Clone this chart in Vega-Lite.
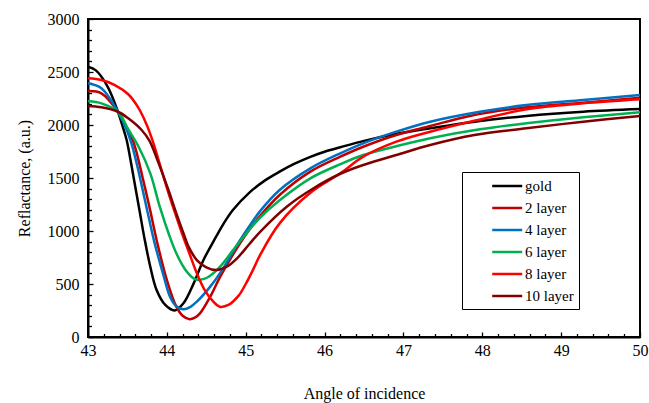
{
  "$schema": "https://vega.github.io/schema/vega-lite/v6.json",
  "autosize": {"type": "none"},
  "padding": {"left": 88, "top": 19, "right": 9, "bottom": 66},
  "width": 552,
  "height": 318,
  "config": {
    "view": {"stroke": "#000000", "strokeWidth": 2},
    "font": "Times New Roman, Liberation Serif, serif",
    "axis": {"grid": false, "domainColor": "#000000", "domainWidth": 2, "tickColor": "#000000", "labelColor": "#000000", "titleColor": "#000000", "labelFont": "Times New Roman, Liberation Serif, serif", "titleFont": "Times New Roman, Liberation Serif, serif", "labelFontSize": 16, "titleFontSize": 16, "titleFontWeight": "normal"},
    "legend": {"labelFont": "Times New Roman, Liberation Serif, serif", "labelFontSize": 15, "labelColor": "#000000"}
  },
  "data": {"values": [
    {"s":"gold","x":43.0,"y":2550},{"s":"gold","x":43.1,"y":2515},{"s":"gold","x":43.25,"y":2360},{"s":"gold","x":43.38,"y":2125},{"s":"gold","x":43.44,"y":1985},{"s":"gold","x":43.49,"y":1858},{"s":"gold","x":43.55,"y":1625},{"s":"gold","x":43.6,"y":1415},{"s":"gold","x":43.66,"y":1165},{"s":"gold","x":43.72,"y":915},{"s":"gold","x":43.79,"y":663},{"s":"gold","x":43.87,"y":443},{"s":"gold","x":43.98,"y":302},{"s":"gold","x":44.1,"y":250},{"s":"gold","x":44.21,"y":318},{"s":"gold","x":44.34,"y":506},{"s":"gold","x":44.46,"y":720},{"s":"gold","x":44.59,"y":900},{"s":"gold","x":44.72,"y":1070},{"s":"gold","x":44.84,"y":1200},{"s":"gold","x":45.05,"y":1365},{"s":"gold","x":45.25,"y":1480},{"s":"gold","x":45.43,"y":1560},{"s":"gold","x":45.62,"y":1635},{"s":"gold","x":45.82,"y":1700},{"s":"gold","x":46.0,"y":1748},{"s":"gold","x":46.2,"y":1790},{"s":"gold","x":46.5,"y":1850},{"s":"gold","x":46.9,"y":1915},{"s":"gold","x":47.34,"y":1969},{"s":"gold","x":47.9,"y":2031},{"s":"gold","x":48.56,"y":2085},{"s":"gold","x":49.28,"y":2125},{"s":"gold","x":50.0,"y":2150},

    {"s":"2 layer","x":43.0,"y":2320},{"s":"2 layer","x":43.17,"y":2299},{"s":"2 layer","x":43.38,"y":2125},{"s":"2 layer","x":43.48,"y":1990},{"s":"2 layer","x":43.58,"y":1830},{"s":"2 layer","x":43.7,"y":1480},{"s":"2 layer","x":43.79,"y":1190},{"s":"2 layer","x":43.87,"y":915},{"s":"2 layer","x":44.0,"y":538},{"s":"2 layer","x":44.12,"y":286},{"s":"2 layer","x":44.2,"y":200},{"s":"2 layer","x":44.29,"y":167},{"s":"2 layer","x":44.36,"y":185},{"s":"2 layer","x":44.42,"y":223},{"s":"2 layer","x":44.55,"y":380},{"s":"2 layer","x":44.67,"y":560},{"s":"2 layer","x":44.84,"y":780},{"s":"2 layer","x":45.0,"y":965},{"s":"2 layer","x":45.18,"y":1140},{"s":"2 layer","x":45.43,"y":1340},{"s":"2 layer","x":45.82,"y":1560},{"s":"2 layer","x":46.2,"y":1701},{"s":"2 layer","x":46.49,"y":1795},{"s":"2 layer","x":46.91,"y":1906},{"s":"2 layer","x":47.34,"y":1990},{"s":"2 layer","x":47.84,"y":2085},{"s":"2 layer","x":48.56,"y":2167},{"s":"2 layer","x":49.28,"y":2211},{"s":"2 layer","x":50.0,"y":2258},

    {"s":"4 layer","x":43.0,"y":2393},{"s":"4 layer","x":43.17,"y":2346},{"s":"4 layer","x":43.38,"y":2125},{"s":"4 layer","x":43.47,"y":1990},{"s":"4 layer","x":43.55,"y":1830},{"s":"4 layer","x":43.62,"y":1630},{"s":"4 layer","x":43.7,"y":1365},{"s":"4 layer","x":43.77,"y":1130},{"s":"4 layer","x":43.84,"y":900},{"s":"4 layer","x":43.95,"y":601},{"s":"4 layer","x":44.04,"y":380},{"s":"4 layer","x":44.12,"y":290},{"s":"4 layer","x":44.21,"y":261},{"s":"4 layer","x":44.3,"y":285},{"s":"4 layer","x":44.38,"y":333},{"s":"4 layer","x":44.55,"y":475},{"s":"4 layer","x":44.72,"y":655},{"s":"4 layer","x":44.9,"y":880},{"s":"4 layer","x":45.05,"y":1050},{"s":"4 layer","x":45.18,"y":1185},{"s":"4 layer","x":45.43,"y":1387},{"s":"4 layer","x":45.82,"y":1591},{"s":"4 layer","x":46.2,"y":1733},{"s":"4 layer","x":46.49,"y":1827},{"s":"4 layer","x":46.91,"y":1937},{"s":"4 layer","x":47.34,"y":2031},{"s":"4 layer","x":47.97,"y":2125},{"s":"4 layer","x":48.56,"y":2188},{"s":"4 layer","x":49.28,"y":2236},{"s":"4 layer","x":50.0,"y":2283},

    {"s":"6 layer","x":43.0,"y":2226},{"s":"6 layer","x":43.17,"y":2204},{"s":"6 layer","x":43.38,"y":2125},{"s":"6 layer","x":43.51,"y":1960},{"s":"6 layer","x":43.645,"y":1790},{"s":"6 layer","x":43.79,"y":1544},{"s":"6 layer","x":43.91,"y":1229},{"s":"6 layer","x":44.03,"y":960},{"s":"6 layer","x":44.12,"y":790},{"s":"6 layer","x":44.23,"y":640},{"s":"6 layer","x":44.34,"y":553},{"s":"6 layer","x":44.4,"y":538},{"s":"6 layer","x":44.47,"y":548},{"s":"6 layer","x":44.53,"y":569},{"s":"6 layer","x":44.67,"y":660},{"s":"6 layer","x":44.84,"y":820},{"s":"6 layer","x":45.0,"y":970},{"s":"6 layer","x":45.18,"y":1125},{"s":"6 layer","x":45.43,"y":1290},{"s":"6 layer","x":45.82,"y":1497},{"s":"6 layer","x":46.2,"y":1630},{"s":"6 layer","x":46.49,"y":1717},{"s":"6 layer","x":46.91,"y":1800},{"s":"6 layer","x":47.34,"y":1875},{"s":"6 layer","x":47.97,"y":1959},{"s":"6 layer","x":48.56,"y":2016},{"s":"6 layer","x":49.28,"y":2072},{"s":"6 layer","x":50.0,"y":2120},

    {"s":"8 layer","x":43.0,"y":2440},{"s":"8 layer","x":43.17,"y":2424},{"s":"8 layer","x":43.34,"y":2377},{"s":"8 layer","x":43.51,"y":2290},{"s":"8 layer","x":43.63,"y":2173},{"s":"8 layer","x":43.74,"y":2010},{"s":"8 layer","x":43.82,"y":1850},{"s":"8 layer","x":43.91,"y":1630},{"s":"8 layer","x":44.02,"y":1360},{"s":"8 layer","x":44.12,"y":1135},{"s":"8 layer","x":44.21,"y":940},{"s":"8 layer","x":44.29,"y":780},{"s":"8 layer","x":44.38,"y":601},{"s":"8 layer","x":44.48,"y":443},{"s":"8 layer","x":44.59,"y":333},{"s":"8 layer","x":44.67,"y":286},{"s":"8 layer","x":44.78,"y":302},{"s":"8 layer","x":44.91,"y":390},{"s":"8 layer","x":45.0,"y":500},{"s":"8 layer","x":45.1,"y":645},{"s":"8 layer","x":45.18,"y":770},{"s":"8 layer","x":45.43,"y":1072},{"s":"8 layer","x":45.82,"y":1360},{"s":"8 layer","x":46.2,"y":1544},{"s":"8 layer","x":46.49,"y":1701},{"s":"8 layer","x":46.91,"y":1843},{"s":"8 layer","x":47.34,"y":1937},{"s":"8 layer","x":47.9,"y":2040},{"s":"8 layer","x":48.56,"y":2148},{"s":"8 layer","x":49.28,"y":2204},{"s":"8 layer","x":50.0,"y":2242},

    {"s":"10 layer","x":43.0,"y":2180},{"s":"10 layer","x":43.17,"y":2167},{"s":"10 layer","x":43.38,"y":2125},{"s":"10 layer","x":43.51,"y":2063},{"s":"10 layer","x":43.68,"y":1953},{"s":"10 layer","x":43.78,"y":1850},{"s":"10 layer","x":43.89,"y":1650},{"s":"10 layer","x":44.02,"y":1387},{"s":"10 layer","x":44.12,"y":1167},{"s":"10 layer","x":44.22,"y":960},{"s":"10 layer","x":44.27,"y":860},{"s":"10 layer","x":44.38,"y":726},{"s":"10 layer","x":44.5,"y":657},{"s":"10 layer","x":44.63,"y":632},{"s":"10 layer","x":44.76,"y":663},{"s":"10 layer","x":44.89,"y":742},{"s":"10 layer","x":45.05,"y":880},{"s":"10 layer","x":45.18,"y":990},{"s":"10 layer","x":45.52,"y":1229},{"s":"10 layer","x":45.86,"y":1403},{"s":"10 layer","x":46.2,"y":1540},{"s":"10 layer","x":46.49,"y":1623},{"s":"10 layer","x":46.91,"y":1717},{"s":"10 layer","x":47.34,"y":1811},{"s":"10 layer","x":47.9,"y":1905},{"s":"10 layer","x":48.56,"y":1969},{"s":"10 layer","x":49.28,"y":2031},{"s":"10 layer","x":50.0,"y":2085}
  ]},
  "mark": {"type": "line", "interpolate": "catmull-rom"},
  "encoding": {
    "x": {"field": "x", "type": "quantitative", "scale": {"domain": [43, 50], "nice": false, "zero": false},
          "axis": {"title": "Angle of incidence", "orient": "bottom", "labelFont": "Times New Roman, Liberation Serif, serif", "titleFont": "Times New Roman, Liberation Serif, serif", "labelFontSize": 16, "labelOverlap": false, "labelFlush": false, "labelBound": false,
                   "values": [43,43.2,43.4,43.6,43.8,44,44.2,44.4,44.6,44.8,45,45.2,45.4,45.6,45.8,46,46.2,46.4,46.6,46.8,47,47.2,47.4,47.6,47.8,48,48.2,48.4,48.6,48.8,49,49.2,49.4,49.6,49.8,50],
                   "labelExpr": "abs(datum.value - round(datum.value)) < 0.01 ? format(datum.value, 'd') : ''",
                   "tickSize": {"condition": {"test": "abs(datum.value - round(datum.value)) < 0.01", "value": -5}, "value": -3.5},
                   "tickWidth": 1.3, "labelPadding": 10, "titlePadding": 26}},
    "y": {"field": "y", "type": "quantitative", "scale": {"domain": [0, 3000], "nice": false},
          "axis": {"title": "Reflactance, (a.u.)", "orient": "left", "labelFont": "Times New Roman, Liberation Serif, serif", "titleFont": "Times New Roman, Liberation Serif, serif", "labelFontSize": 16, "labelOverlap": false, "labelFlush": false, "labelBound": false,
                   "values": [0,100,200,300,400,500,600,700,800,900,1000,1100,1200,1300,1400,1500,1600,1700,1800,1900,2000,2100,2200,2300,2400,2500,2600,2700,2800,2900,3000],
                   "labelExpr": "datum.value % 500 === 0 ? format(datum.value, 'd') : ''",
                   "tickSize": {"condition": {"test": "datum.value % 500 === 0", "value": -5}, "value": -3.5},
                   "tickWidth": 1.3, "labelPadding": 14, "titlePadding": 15}},
    "color": {"field": "s", "type": "nominal",
              "scale": {"domain": ["gold","2 layer","4 layer","6 layer","8 layer","10 layer"], "range": ["#000000","#C00000","#0070C0","#00B050","#FF0000","#800000"]},
              "legend": {"title": null, "orient": "none", "legendX": 374, "legendY": 153, "strokeColor": "#000000", "fillColor": "#ffffff", "padding": 5, "labelFont": "Times New Roman, Liberation Serif, serif", "symbolType": "M2.16,0L6.16,0", "symbolSize": 225, "symbolStrokeWidth": 2.5, "labelOffset": 40, "rowPadding": 5}},
    "strokeWidth": {"field": "s", "type": "nominal",
              "scale": {"domain": ["gold","2 layer","4 layer","6 layer","8 layer","10 layer"], "range": [2.5,2.5,2.5,2.5,1.4,1.4]},
              "legend": null}
  }
}
